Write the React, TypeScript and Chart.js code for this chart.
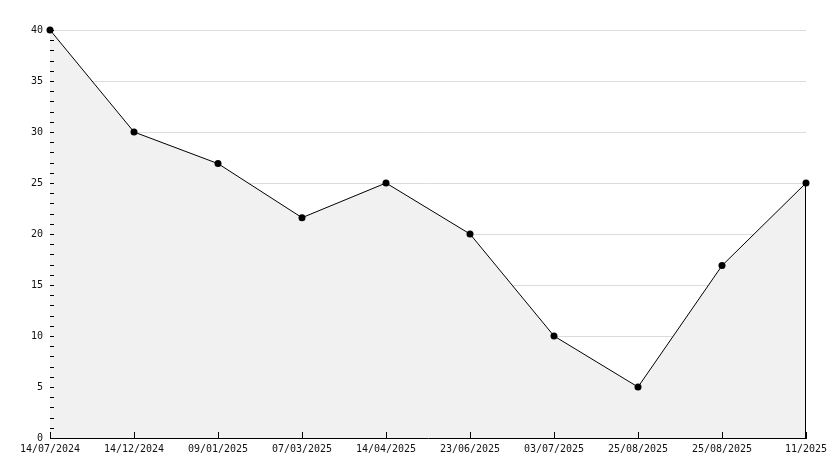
import React, { useEffect, useRef } from "react";
import { Chart, registerables } from "chart.js";

Chart.register(...registerables);

const categories = [
  "14/07/2024",
  "14/12/2024",
  "09/01/2025",
  "07/03/2025",
  "14/04/2025",
  "23/06/2025",
  "03/07/2025",
  "25/08/2025",
  "25/08/2025",
  "11/2025",
];
const values = [40, 30, 26.9, 21.6, 25, 20, 10, 5, 16.9, 25];
const yMin = 0;
const yMax = 40;
const yStep = 5;
const yMinorStep = 1;

const tickPlugin = {
  id: "innerTicks",
  afterDatasetsDraw(chart: any) {
    const { ctx, chartArea, scales } = chart;
    const x = scales.x;
    const y = scales.y;
    ctx.save();
    ctx.strokeStyle = "#000";
    ctx.lineWidth = 1;
    ctx.beginPath();
    for (let i = 0; i < categories.length; i++) {
      const px = Math.round(x.getPixelForValue(i)) + 0.5;
      ctx.moveTo(px, chartArea.bottom);
      ctx.lineTo(px, chartArea.bottom - 6);
    }
    for (let v = yMin; v <= yMax; v += yMinorStep) {
      const py = Math.round(y.getPixelForValue(v)) + 0.5;
      ctx.moveTo(chartArea.left, py);
      ctx.lineTo(chartArea.left + 4, py);
    }
    const meta = chart.getDatasetMeta(0);
    const last = meta.data[meta.data.length - 1];
    if (last) {
      const lx = Math.round(last.x) - 0.5;
      ctx.moveTo(lx, last.y);
      ctx.lineTo(lx, chartArea.bottom);
    }
    ctx.stroke();
    ctx.restore();
  },
};

export default function App() {
  const ref = useRef<HTMLCanvasElement | null>(null);
  useEffect(() => {
    if (!ref.current) return;
    const font = { family: "'DejaVu Sans Mono', monospace", size: 10 };
    const chart = new Chart(ref.current, {
      type: "line",
      data: {
        labels: categories,
        datasets: [
          {
            data: values,
            borderColor: "#000",
            borderWidth: 1,
            backgroundColor: "#f1f1f1",
            fill: "origin",
            tension: 0,
            clip: false,
            pointRadius: 3.5,
            pointStyle: "circle",
            pointBackgroundColor: "#000",
            pointBorderColor: "#000",
            pointBorderWidth: 0,
          },
        ],
      },
      options: {
        responsive: false,
        animation: false,
        events: [],
        layout: { padding: { top: 30, right: 28, left: 0, bottom: 0 } },
        plugins: {
          legend: { display: false },
          tooltip: { enabled: false },
        },
        scales: {
          x: {
            type: "category",
            offset: false,
            grid: { display: false, drawTicks: false },
            border: { display: true, color: "#000", width: 1 },
            ticks: {
              font,
              color: "#111",
              padding: 5,
              maxRotation: 0,
              autoSkip: false,
            },
            afterFit: (s: any) => {
              s.height = 30;
            },
          },
          y: {
            min: yMin,
            max: yMax,
            grid: { color: "#dcdcdc", drawTicks: false, lineWidth: 1 },
            border: { display: true, color: "#000", width: 1 },
            ticks: {
              stepSize: yStep,
              font,
              color: "#111",
              padding: 7,
            },
            afterFit: (s: any) => {
              s.width = 50;
            },
          },
        },
      },
      plugins: [tickPlugin],
    });
    return () => chart.destroy();
  }, []);
  return (
    <div style={{ position: "absolute", left: 0, top: 0, width: 834, height: 468, background: "#fff" }}>
      <canvas ref={ref} width={834} height={468} style={{ display: "block" }} />
    </div>
  );
}
